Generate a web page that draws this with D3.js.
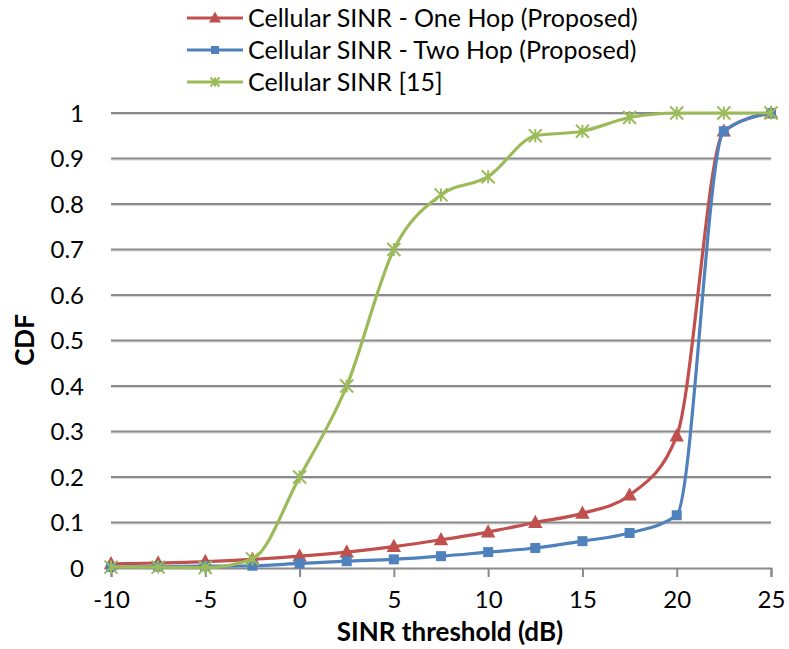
<!DOCTYPE html>
<html><head><meta charset="utf-8">
<script src="https://cdn.jsdelivr.net/npm/d3@7"></script>
<style>body{margin:0;background:#fff}svg text{font-family:Lato,"Open Sans",sans-serif;fill:#000}</style>
</head><body>
<svg id="c" width="789" height="649"></svg>
<script>
const xValues = [-10,-7.5,-5,-2.5,0,2.5,5,7.5,10,12.5,15,17.5,20,22.5,25];
const oneHop  = [0.009,0.011,0.014,0.019,0.026,0.035,0.047,0.062,0.079,0.1,0.12,0.16,0.29,0.96,1];
const twoHop  = [0.002,0.003,0.004,0.005,0.01,0.015,0.019,0.026,0.035,0.044,0.059,0.077,0.116,0.96,1];
const ref15   = [0.002,0.002,0.001,0.02,0.2,0.4,0.7,0.82,0.86,0.95,0.96,0.99,1,1,1];
const seriesNames = ["Cellular SINR - One Hop (Proposed)","Cellular SINR - Two Hop (Proposed)","Cellular SINR [15]"];
const xTicks = [-10,-5,0,5,10,15,20,25];
const yTicks = [0,0.1,0.2,0.3,0.4,0.5,0.6,0.7,0.8,0.9,1];
const xTitle = "SINR threshold (dB)";
const yTitle = "CDF";

const svg = d3.select("#c");
const x = d3.scaleLinear().domain([-10,25]).range([111,771]);
const y = d3.scaleLinear().domain([0,1]).range([568,113]);

// gridlines
const g = svg.append("g");
yTicks.filter(v=>v>0).forEach(v=>{
  g.append("line").attr("x1",x(-10)).attr("x2",x(25)).attr("y1",y(v)+1.5).attr("y2",y(v)+1.5).attr("stroke","#d6d6d6").attr("stroke-width",1);
  g.append("line").attr("x1",x(-10)).attr("x2",x(25)).attr("y1",y(v)).attr("y2",y(v)).attr("stroke","#8a8a8a").attr("stroke-width",2);
});
// x axis
const xAxis = d3.axisBottom(x).tickValues(xTicks).tickSize(9).tickFormat(d=>String(d));
const xa = svg.append("g").attr("transform",`translate(0,${y(0)})`).call(xAxis);
xa.select(".domain").attr("stroke","#8a8a8a").attr("stroke-width",2);
xa.selectAll(".tick line").attr("stroke","#8a8a8a").attr("stroke-width",2);
xa.selectAll(".tick text").attr("font-size",24).attr("dy",0).attr("y",40).style("font-family","Lato");
// y axis labels
const yAxis = d3.axisLeft(y).tickValues(yTicks).tickSize(0).tickPadding(27).tickFormat(d=>String(+d.toFixed(1)));
const ya = svg.append("g").attr("transform",`translate(${x(-10)},0)`).call(yAxis);
ya.select(".domain").remove();
ya.selectAll(".tick text").attr("font-size",24).attr("dy","0.35em").style("font-family","Lato");

// titles
svg.append("text").attr("x",450).attr("y",641).attr("text-anchor","middle").attr("font-size",26).attr("font-weight","bold").text(xTitle);
svg.append("text").attr("transform","translate(34,340) rotate(-90)").attr("text-anchor","middle").attr("font-size",26).attr("font-weight","bold").text(yTitle);

const colors = ["#C0504D","#4F81BD","#9BBB59"];
const data = [oneHop,twoHop,ref15];
const line = d3.line().x((d,i)=>x(xValues[i])).y(d=>y(d)).curve(d3.curveMonotoneX);

function marker(sel, k, s){
  if(k===0){
    sel.append("path").attr("d",`M0,${-s*0.65}L${s*0.6},${s*0.45}L${-s*0.6},${s*0.45}Z`).attr("fill",colors[0]);
  } else if(k===1){
    sel.append("rect").attr("x",-s/2).attr("y",-s/2).attr("width",s).attr("height",s).attr("fill",colors[1]);
  } else {
    const h=s/2;
    sel.append("path").attr("d",`M${-h},${-h}L${h},${h}M${-h},${h}L${h},${-h}M0,${-h}L0,${h}`).attr("stroke",colors[2]).attr("stroke-width",2).attr("fill","none");
  }
}

data.forEach((vals,k)=>{
  svg.append("path").datum(vals).attr("d",line).attr("fill","none").attr("stroke",colors[k]).attr("stroke-width",3.2);
  vals.forEach((v,i)=>{
    const m = svg.append("g").attr("transform",`translate(${x(xValues[i])},${y(v)})`);
    marker(m,k,k===2?13:(k===0?12:10));
  });
});

// legend
const legY = [18,50,82];
seriesNames.forEach((n,k)=>{
  svg.append("line").attr("x1",187).attr("x2",243).attr("y1",legY[k]).attr("y2",legY[k]).attr("stroke",colors[k]).attr("stroke-width",3.2);
  const m = svg.append("g").attr("transform",`translate(215,${legY[k]})`);
  marker(m,k,k===2?9:(k===0?10:8));
  svg.append("text").attr("x",248).attr("y",legY[k]).attr("dy","0.35em").attr("font-size",25).text(n);
});
</script>
</body></html>
